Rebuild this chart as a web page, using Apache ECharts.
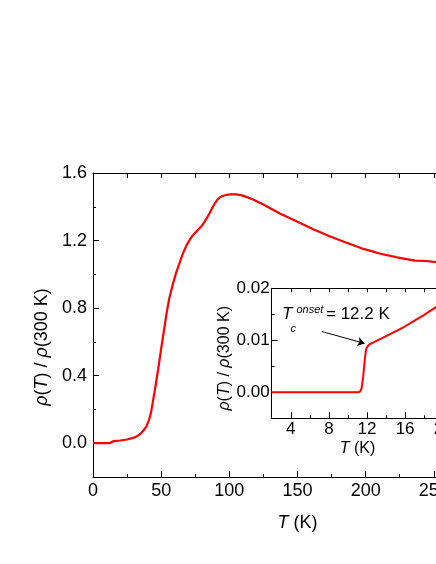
<!DOCTYPE html>
<html><head><meta charset="utf-8">
<script src="https://cdn.jsdelivr.net/npm/echarts@6/dist/echarts.min.js"></script>
<style>html,body{margin:0;padding:0;width:436px;height:564px;overflow:hidden;background:#fff}#c{width:520px;height:564px}</style>
</head><body><div id="c"></div>
<script>
// Main curve: temperature (K) and normalized resistivity
const mainT =   [0, 5, 10, 12, 12.3, 15, 20, 25, 30, 33, 35, 37, 39.2, 41, 42.5, 44, 46, 48, 50, 52, 54, 56, 58.7, 61, 63.6, 66, 68.5, 71, 73.3, 75.8, 78.2, 80, 81.9, 83.7, 85.5, 87.4, 89.2, 91, 92.8, 95, 97.7, 101, 105, 110, 117, 125, 137, 150, 162, 174, 187, 199, 211, 223, 230, 236, 237, 244, 252, 265, 280, 300];
const mainRho = [0, 0, 0, 0, 0.009, 0.012, 0.016, 0.022, 0.033, 0.045, 0.058, 0.075, 0.100, 0.135, 0.18, 0.25, 0.345, 0.45, 0.56, 0.665, 0.77, 0.86, 0.945, 1.01, 1.07, 1.125, 1.17, 1.205, 1.232, 1.254, 1.273, 1.289, 1.312, 1.336, 1.362, 1.392, 1.418, 1.440, 1.454, 1.464, 1.470, 1.474, 1.473, 1.466, 1.445, 1.413, 1.36, 1.312, 1.266, 1.224, 1.184, 1.149, 1.122, 1.100, 1.090, 1.081, 1.086, 1.079, 1.072, 1.055, 1.03, 1.0];
// Inset curve (low-temperature zoom)
const insetT =   [2, 4, 6, 8, 10, 11, 11.26, 11.44, 11.6, 11.7, 11.8, 11.9, 12.0, 12.1, 12.25, 13, 14, 15, 16, 17, 18, 19, 20];
const insetRho = [0, 0, 0, 0, 0, 0, 0.0001, 0.0008, 0.003, 0.005, 0.0068, 0.0082, 0.0087, 0.009, 0.0092, 0.0099, 0.0108, 0.0117, 0.0127, 0.0138, 0.0149, 0.0161, 0.0173];
// Tick values
const mainYLabels = [0, 0.4, 0.8, 1.2, 1.6];
const mainYMinor = [0.2, 0.6, 1.0, 1.4];
const insetXLabels = [4, 8, 12, 16, 20];
const insetXMinor = [6, 10, 14, 18];
const insetYLabels = [0, 0.01, 0.02];
const insetYMinor = [0.005, 0.015];
// Annotation arrow (data coords of inset)
const arrowFrom = [7.25, 0.0117];
const arrowTo = [11.75, 0.0094];

const FF = 'Liberation Sans, Arial, sans-serif';
const black = '#000';
const lineS = {show: true, onZero: false, lineStyle: {color: black, width: 1}};
const lbl = (size, extra) => Object.assign({fontFamily: FF, fontSize: size, color: black}, extra);
const ital = (size) => ({fontStyle: 'italic', fontFamily: FF, fontSize: size, color: black});

const chart = echarts.init(document.getElementById('c'), null, {renderer: 'canvas'});
chart.setOption({
  animation: false,
  backgroundColor: '#fff',
  grid: [
    {left: 93, top: 173, width: 409, height: 304, containLabel: false},
    {left: 271.7, top: 288.3, width: 171.5, height: 130, containLabel: false, show: true, backgroundColor: '#fff', borderWidth: 0}
  ],
  xAxis: [
    {type: 'value', gridIndex: 0, position: 'bottom', min: 0, max: 300, interval: 50,
     axisLine: lineS, splitLine: {show: false},
     axisTick: {show: true, inside: true, length: 6, lineStyle: {color: black}},
     minorTick: {show: true, splitNumber: 2, length: 3, lineStyle: {color: black}},
     axisLabel: lbl(18, {margin: 5}),
     name: '{i|T} (K)', nameLocation: 'middle', nameGap: 37,
     nameTextStyle: {fontFamily: FF, fontSize: 18, color: black, rich: {i: ital(18)}}},
    {type: 'value', gridIndex: 0, position: 'top', min: 0, max: 300, interval: 25,
     axisLine: lineS, splitLine: {show: false},
     axisTick: {show: true, inside: true, length: 5, lineStyle: {color: black}},
     axisLabel: {show: false}},
    {type: 'value', gridIndex: 1, position: 'bottom', min: 2, max: 20, interval: 2,
     axisLine: lineS, splitLine: {show: false},
     axisTick: {show: true, inside: true, length: 6, customValues: insetXLabels, lineStyle: {color: black}},
     axisLabel: lbl(17, {margin: 3, customValues: insetXLabels}),
     name: '{i|T} (K)', nameLocation: 'middle', nameGap: 22,
     nameTextStyle: {fontFamily: FF, fontSize: 16, color: black, rich: {i: ital(16)}}},
    {type: 'value', gridIndex: 1, position: 'bottom', min: 2, max: 20, interval: 2,
     axisLine: {show: false, onZero: false}, splitLine: {show: false},
     axisTick: {show: true, inside: true, length: 3, customValues: insetXMinor, lineStyle: {color: black}},
     axisLabel: {show: false}},
    {type: 'value', gridIndex: 1, position: 'top', min: 2, max: 20, interval: 2,
     axisLine: lineS, splitLine: {show: false},
     axisTick: {show: true, inside: true, length: 4, lineStyle: {color: black}},
     axisLabel: {show: false}}
  ],
  yAxis: [
    {type: 'value', gridIndex: 0, position: 'left', min: -0.2, max: 1.6, interval: 0.2,
     axisLine: lineS, splitLine: {show: false},
     axisTick: {show: true, inside: true, length: 6, customValues: mainYLabels, lineStyle: {color: black}},
     axisLabel: lbl(18, {margin: 6, customValues: mainYLabels, formatter: v => v.toFixed(1)}),
     name: '{i|ρ}({i|T}) / {i|ρ}(300 K)', nameLocation: 'middle', nameGap: 38,
     nameTextStyle: {fontFamily: FF, fontSize: 18, color: black, padding: [0, 44, 0, 0], rich: {i: ital(18)}}},
    {type: 'value', gridIndex: 0, position: 'left', min: -0.2, max: 1.6, interval: 0.2,
     axisLine: {show: false, onZero: false}, splitLine: {show: false},
     axisTick: {show: true, inside: true, length: 3, customValues: mainYMinor, lineStyle: {color: black}},
     axisLabel: {show: false}},
    {type: 'value', gridIndex: 0, position: 'right', min: -0.2, max: 1.6, interval: 0.2,
     axisLine: lineS, splitLine: {show: false},
     axisTick: {show: true, inside: true, length: 4, lineStyle: {color: black}},
     axisLabel: {show: false}},
    {type: 'value', gridIndex: 1, position: 'left', min: -0.005, max: 0.02, interval: 0.005,
     axisLine: lineS, splitLine: {show: false},
     axisTick: {show: true, inside: true, length: 6, customValues: insetYLabels, lineStyle: {color: black}},
     axisLabel: lbl(17, {margin: 2, customValues: insetYLabels, formatter: v => v.toFixed(2)}),
     name: '{i|ρ}({i|T}) / {i|ρ}(300 K)', nameLocation: 'middle', nameGap: 38,
     nameTextStyle: {fontFamily: FF, fontSize: 16, color: black, padding: [0, 10, 0, 0], rich: {i: ital(16)}}},
    {type: 'value', gridIndex: 1, position: 'left', min: -0.005, max: 0.02, interval: 0.005,
     axisLine: {show: false, onZero: false}, splitLine: {show: false},
     axisTick: {show: true, inside: true, length: 3, customValues: insetYMinor, lineStyle: {color: black}},
     axisLabel: {show: false}},
    {type: 'value', gridIndex: 1, position: 'right', min: -0.005, max: 0.02, interval: 0.005,
     axisLine: lineS, splitLine: {show: false},
     axisTick: {show: true, inside: true, length: 4, lineStyle: {color: black}},
     axisLabel: {show: false}}
  ],
  series: [
    {type: 'line', xAxisIndex: 0, yAxisIndex: 0, showSymbol: false, smooth: false,
     lineStyle: {color: '#ff0000', width: 2.2, join: 'round'}, data: mainT.map((t, i) => [t, mainRho[i]])},
    {type: 'line', xAxisIndex: 2, yAxisIndex: 3, showSymbol: false, smooth: false,
     lineStyle: {color: '#ff0000', width: 2, join: 'round'}, data: insetT.map((t, i) => [t, insetRho[i]]),
     markLine: {silent: true, symbol: ['none', 'arrow'], symbolSize: 7, animation: false,
       lineStyle: {color: black, width: 1, type: 'solid'}, label: {show: false},
       data: [[{coord: arrowFrom}, {coord: arrowTo}]]}}
  ],
  graphic: [
    {type: 'text', left: 282, top: 306, style: {text: 'T', font: 'italic 17px ' + FF, fill: black}},
    {type: 'text', left: 290.5, top: 323, style: {text: 'c', font: 'italic 11px ' + FF, fill: black}},
    {type: 'text', left: 296.5, top: 304, style: {text: 'onset', font: 'italic 11px ' + FF, fill: black}},
    {type: 'text', left: 326, top: 306, style: {text: '= 12.2 K', font: '17px ' + FF, fill: black}}
  ]
});
</script>
</body></html>
